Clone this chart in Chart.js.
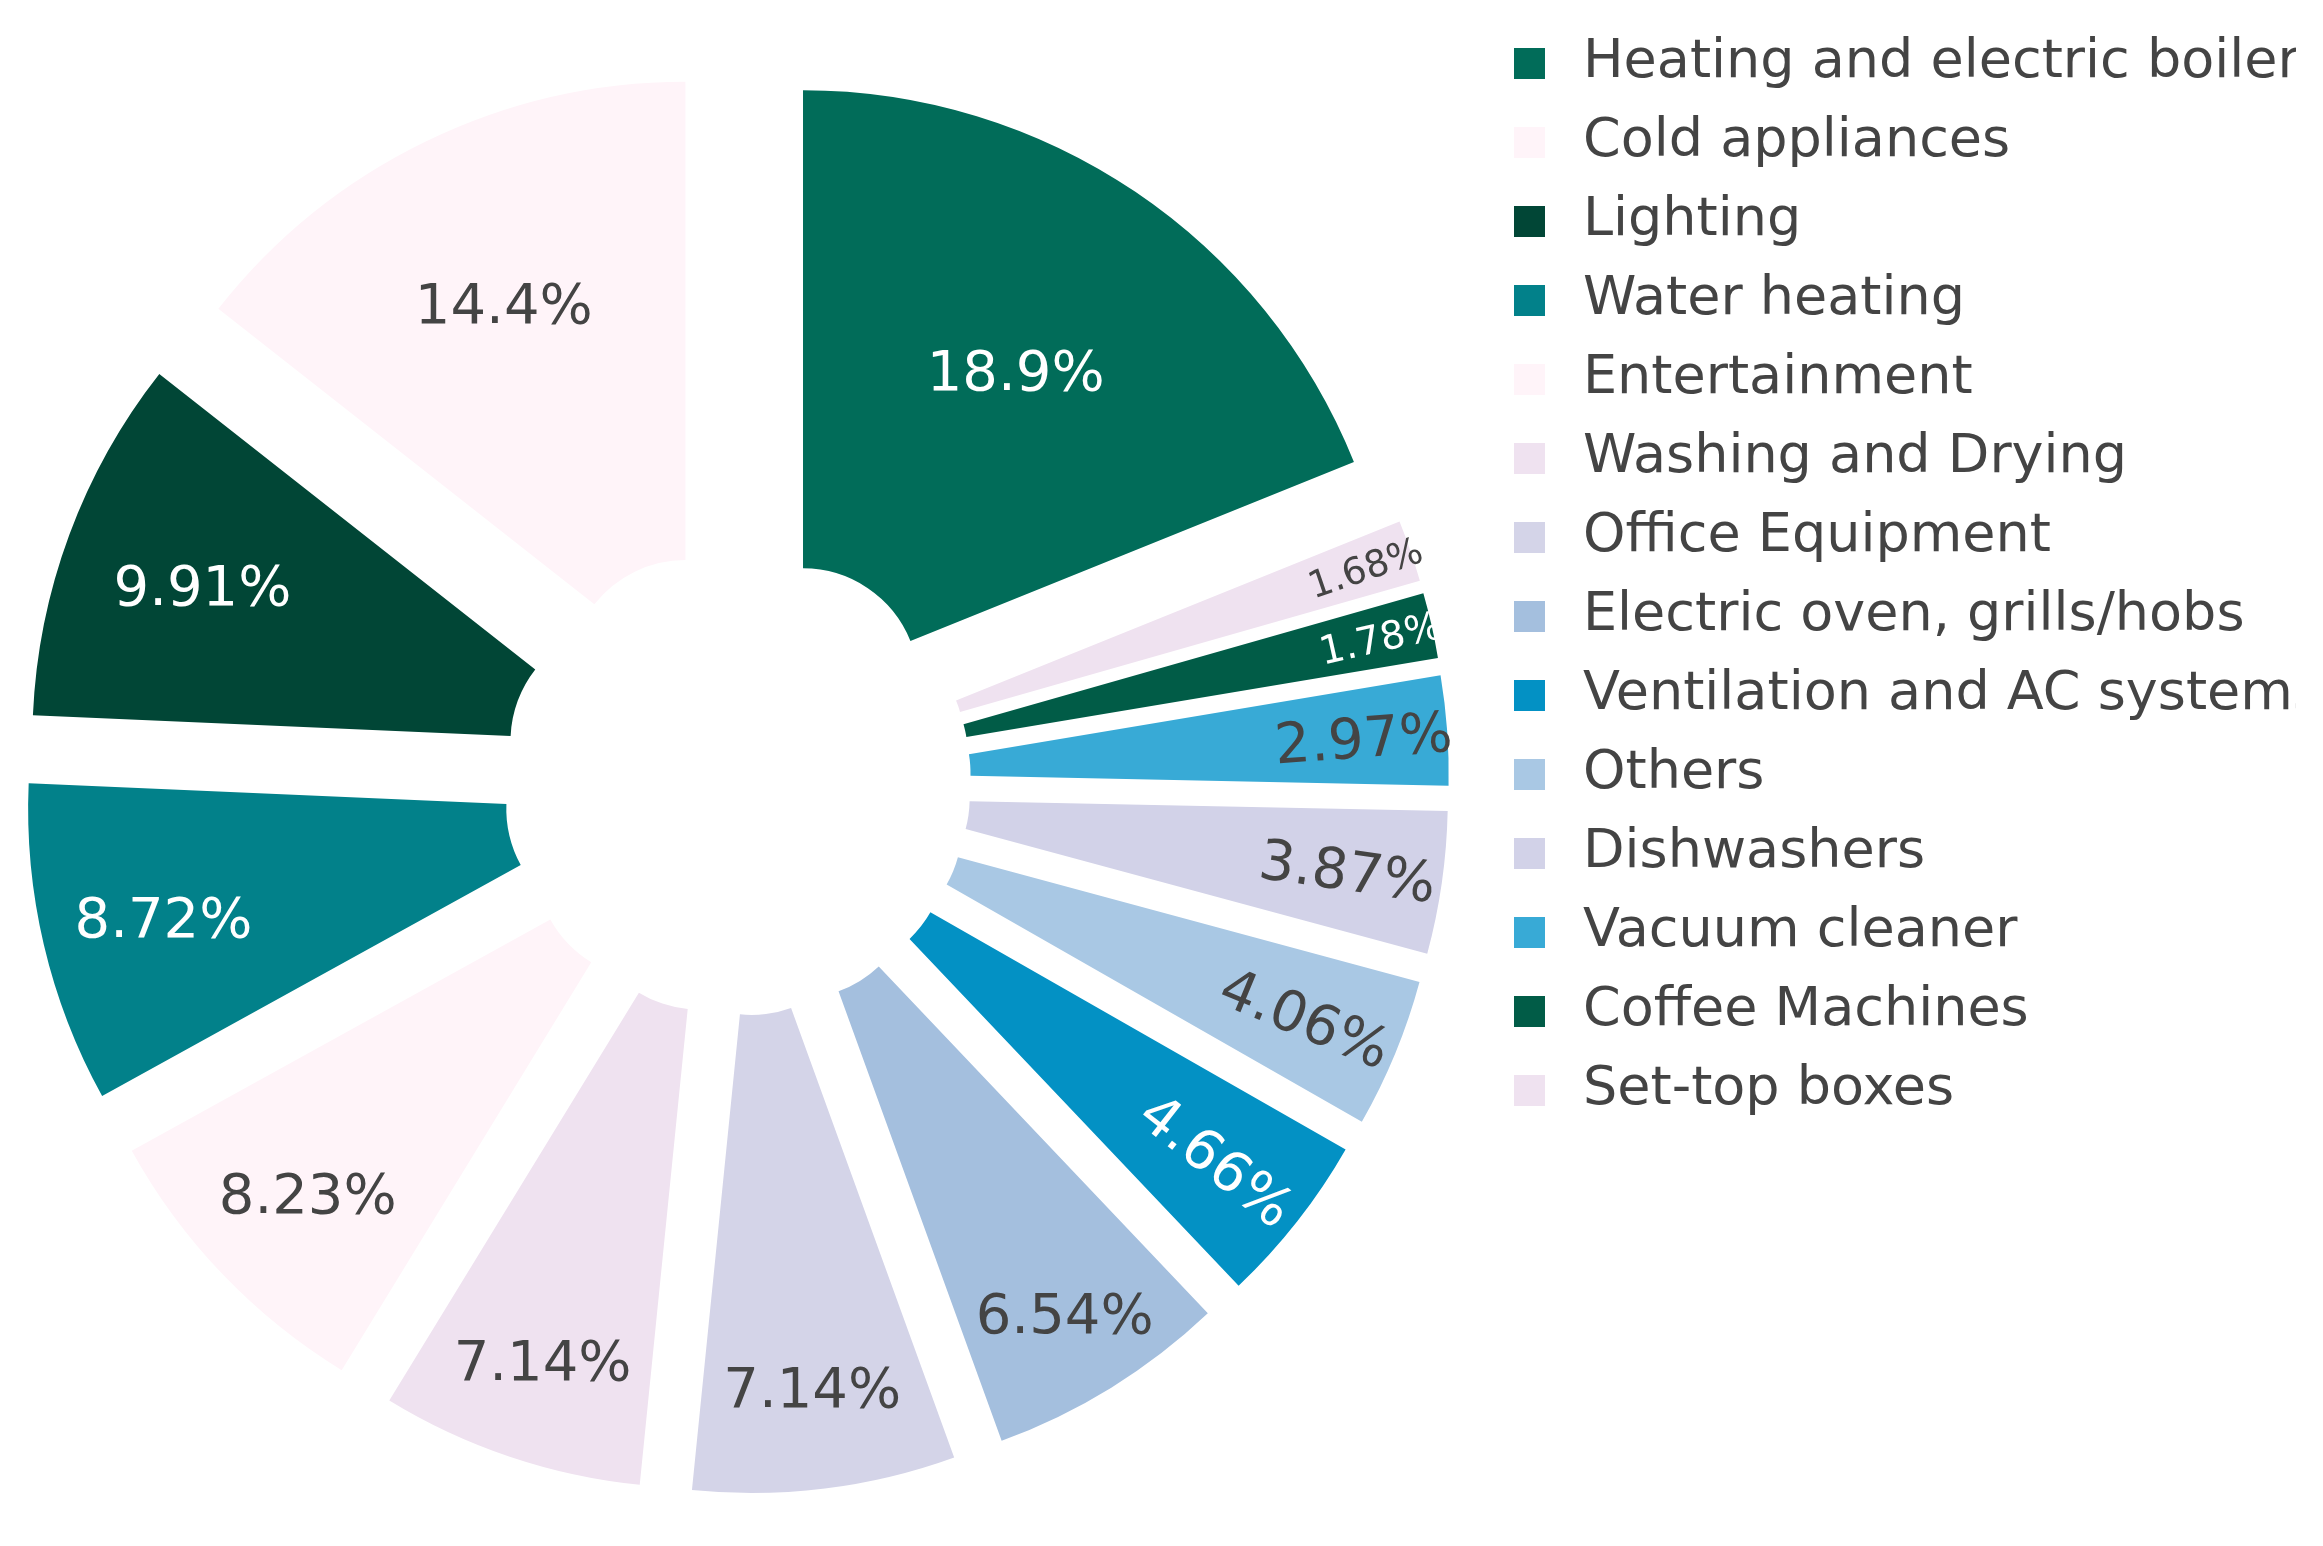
<!DOCTYPE html>
<html>
<head>
<meta charset="utf-8">
<script src="https://cdn.jsdelivr.net/npm/chart.js@4/dist/chart.umd.min.js"></script>
<style>
  html, body { margin: 0; padding: 0; background: #ffffff; overflow: hidden; }
  body { width: 2323px; height: 1546px; position: relative; }
  #wrap { position: absolute; left: -15px; top: 0; width: 2311px; height: 1553px; }
</style>
</head>
<body>
<div id="wrap"><canvas id="c" width="2311" height="1553"></canvas></div>
<script>
// ---- data (legend order) ----
const categories = [
  'Heating and electric boiler', 'Cold appliances', 'Lighting', 'Water heating',
  'Entertainment', 'Washing and Drying', 'Office Equipment', 'Electric oven, grills/hobs',
  'Ventilation and AC systems', 'Others', 'Dishwashers', 'Vacuum cleaner',
  'Coffee Machines', 'Set-top boxes'
];
const shares = [18.9, 14.4, 9.91, 8.72, 8.23, 7.14, 7.14, 6.54, 4.66, 4.06, 3.87, 2.97, 1.78, 1.68];
const colors = [
  '#016c59', '#fff4f9', '#014636', '#02818a',
  '#fff4f9', '#efe2f0', '#d4d4e8', '#a4bfde',
  '#0391c4', '#a9c8e4', '#d2d2e8', '#38aad6',
  '#015c47', '#efe2f0'
];

// ---- style ----
const FONT = 'DejaVu Sans';
const LABEL_SIZE = 56;
const LEGEND_SIZE = 54;
const PULL = 118;
const OUTER_R = 594;
const CUTOUT = '19.5%';

// drawing order: first slice at 12 o'clock, the rest follow clockwise in reverse legend order
const order = [0];
for (let i = categories.length - 1; i >= 1; i--) order.push(i);
const drawLabels = order.map(i => categories[i]);
const drawValues = order.map(i => shares[i]);
const drawColors = order.map(i => colors[i]);

function isDark(hex) {
  const r = parseInt(hex.slice(1, 3), 16), g = parseInt(hex.slice(3, 5), 16), b = parseInt(hex.slice(5, 7), 16);
  return 0.299 * r + 0.587 * g + 0.114 * b < 128;
}

function swatch(color) {
  const c = document.createElement('canvas');
  c.width = 42; c.height = 31;
  const g = c.getContext('2d');
  g.fillStyle = color;
  g.fillRect(0, 0, 31, 31);
  return c;
}

function bump(span, at, amp, width) {
  return amp * Math.exp(-Math.pow((span - at) / width, 2));
}

const pullPlugin = {
  id: 'pull',
  afterDatasetUpdate(chart, args) {
    args.meta.data.forEach(arc => {
      const mid = (arc.startAngle + arc.endAngle) / 2;
      arc.x += PULL * Math.cos(mid);
      arc.y += PULL * Math.sin(mid);
    });
  }
};

const labelPlugin = {
  id: 'sliceLabels',
  afterDatasetsDraw(chart) {
    const meta = chart.getDatasetMeta(0);
    const ctx = chart.ctx;
    meta.data.forEach((arc, i) => {
      const { x, y, startAngle, endAngle, outerRadius } = arc;
      const value = drawValues[i];
      const ang = endAngle - startAngle;
      const mid = (startAngle + endAngle) / 2;
      const spanDeg = ang * 180 / Math.PI;
      const radial = value < 5;
      let frac = radial
        ? 0.78 + 0.84 / spanDeg
        : 0.529 + 7.54 / spanDeg + bump(spanDeg, 33, 0.026, 5.5) + bump(spanDeg, 52, 0.025, 6);
      frac = Math.min(0.93, frac);
      const r = frac * outerRadius;
      const chord = 2 * r * Math.sin(ang / 2);
      const size = radial ? Math.min(LABEL_SIZE, chord / 1.55) : LABEL_SIZE;
      ctx.save();
      ctx.translate(x + r * Math.cos(mid), y + r * Math.sin(mid));
      if (radial) ctx.rotate(mid);
      ctx.font = `${size}px "${FONT}"`;
      ctx.textAlign = 'center';
      ctx.textBaseline = 'middle';
      ctx.fillStyle = isDark(drawColors[i]) ? '#ffffff' : '#444444';
      ctx.fillText(value.toPrecision(3) + '%', 0, size * 0.11);
      ctx.restore();
    });
  }
};

new Chart(document.getElementById('c'), {
  type: 'doughnut',
  data: {
    labels: drawLabels,
    datasets: [{
      data: drawValues,
      backgroundColor: drawColors,
      borderWidth: 0,
      hoverOffset: 0
    }]
  },
  options: {
    responsive: false,
    animation: false,
    events: [],
    devicePixelRatio: 1,
    radius: OUTER_R,
    cutout: CUTOUT,
    rotation: 0,
    layout: { padding: { top: 11, left: 0, right: 0, bottom: 0 } },
    plugins: {
      tooltip: { enabled: false },
      legend: {
        position: 'right',
        align: 'start',
        maxWidth: 807,
        labels: {
          font: { family: FONT, size: LEGEND_SIZE },
          color: '#444444',
          usePointStyle: true,
          pointStyleWidth: 42,
          boxHeight: 31,
          padding: 25,
          generateLabels(chart) {
            const ds = chart.data.datasets[0];
            return chart.data.labels.map((text, i) => ({
              text,
              fillStyle: ds.backgroundColor[i],
              strokeStyle: ds.backgroundColor[i],
              lineWidth: 0,
              hidden: false,
              index: i,
              pointStyle: swatch(ds.backgroundColor[i]),
              fontColor: '#444444'
            }));
          },
          sort: (a, b) => order[a.index] - order[b.index]
        }
      }
    }
  },
  plugins: [pullPlugin, labelPlugin]
});
</script>
</body>
</html>
